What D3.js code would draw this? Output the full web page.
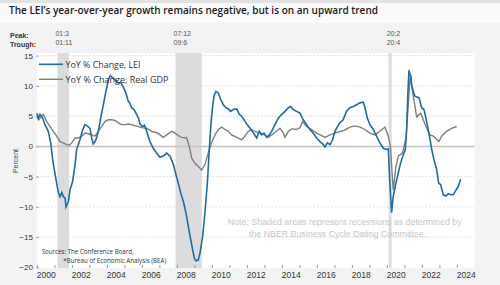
<!DOCTYPE html>
<html>
<head>
<meta charset="utf-8">
<script src="https://cdn.jsdelivr.net/npm/d3@7/dist/d3.min.js"></script>
<style>
  body { margin: 0; background: #f3f3f3; }
  svg { display: block; }
  text { font-family: "Liberation Sans", Arial, sans-serif; }
</style>
</head>
<body>
<div id="chart"></div>
<script>
var width = 500,
    height = 285;

// LEI, year-over-year % change (decimal year, value)
var lei = [
  [2000.00, 5.5], [2000.08, 4.7], [2000.18, 5.3], [2000.33, 4.7], [2000.46, 3.6],
  [2000.65, 2.5], [2000.79, 0.6], [2000.90, -2.2], [2001.03, -4.4], [2001.13, -6.1],
  [2001.23, -7.7], [2001.32, -8.3], [2001.42, -7.6], [2001.51, -8.3], [2001.61, -8.5],
  [2001.66, -10.0], [2001.80, -9.1], [2001.89, -7.2], [2002.04, -5.8], [2002.18, -3.0],
  [2002.27, -0.5], [2002.37, 0.3], [2002.46, 1.1], [2002.62, 2.8], [2002.75, 3.6],
  [2002.88, 3.4], [2003.03, 3.0], [2003.13, 1.4], [2003.22, 0.4], [2003.32, 0.8],
  [2003.41, 1.4], [2003.51, 2.5], [2003.61, 4.1], [2003.70, 5.5], [2003.80, 6.9],
  [2003.89, 8.3], [2003.99, 9.7], [2004.08, 11.0], [2004.18, 11.7], [2004.27, 11.5],
  [2004.37, 11.3], [2004.52, 10.8], [2004.65, 10.5], [2004.79, 10.6], [2004.94, 9.8],
  [2005.09, 8.8], [2005.22, 7.5], [2005.32, 7.1], [2005.41, 6.4], [2005.55, 6.1],
  [2005.66, 5.5], [2005.80, 4.7], [2005.89, 3.7], [2006.04, 3.3], [2006.15, 3.5],
  [2006.27, 2.5], [2006.46, 0.8], [2006.65, -0.3], [2006.84, -1.1], [2007.03, -1.8],
  [2007.22, -1.6], [2007.42, -1.1], [2007.61, -1.6], [2007.80, -3.0], [2007.95, -4.7],
  [2008.08, -6.1], [2008.22, -7.7], [2008.37, -9.1], [2008.52, -11.0], [2008.65, -13.2],
  [2008.79, -15.4], [2008.90, -17.1], [2009.00, -18.5], [2009.09, -18.9], [2009.22, -18.8],
  [2009.32, -17.6], [2009.47, -14.9], [2009.60, -11.0], [2009.74, -6.1], [2009.85, -0.5],
  [2009.95, 3.9], [2010.04, 6.6], [2010.12, 8.3], [2010.23, 9.1], [2010.37, 8.8],
  [2010.50, 7.8], [2010.65, 6.9], [2010.80, 6.4], [2010.94, 6.2], [2011.07, 5.8],
  [2011.22, 6.1], [2011.42, 6.2], [2011.57, 5.3], [2011.70, 5.0], [2011.84, 4.4],
  [2011.99, 3.7], [2012.18, 3.0], [2012.37, 2.2], [2012.56, 1.4], [2012.71, 2.5],
  [2012.84, 1.9], [2012.98, 2.2], [2013.13, 1.5], [2013.28, 1.9], [2013.41, 2.5],
  [2013.60, 3.6], [2013.80, 4.7], [2013.99, 5.3], [2014.18, 5.8], [2014.37, 6.4],
  [2014.50, 6.6], [2014.65, 6.1], [2014.84, 5.8], [2015.03, 5.5], [2015.22, 4.4],
  [2015.41, 3.6], [2015.60, 2.8], [2015.79, 2.2], [2015.98, 1.4], [2016.18, 0.8],
  [2016.37, 0.3], [2016.46, -0.1], [2016.60, 0.6], [2016.75, 0.3], [2016.90, 1.1],
  [2017.03, 2.5], [2017.16, 3.2], [2017.31, 3.9], [2017.50, 4.4], [2017.69, 5.8],
  [2017.88, 6.4], [2018.08, 6.6], [2018.27, 6.9], [2018.46, 7.2], [2018.65, 7.3],
  [2018.75, 6.4], [2018.88, 4.7], [2019.03, 3.6], [2019.22, 2.8], [2019.41, 1.7],
  [2019.60, 0.6], [2019.79, -0.3], [2019.98, -0.5], [2020.08, -0.4], [2020.17, -6.1],
  [2020.27, -10.9], [2020.36, -8.3], [2020.51, -6.1], [2020.65, -4.4], [2020.78, -2.8],
  [2020.93, -1.4], [2021.05, -0.5], [2021.13, 2.8], [2021.20, 8.8], [2021.26, 12.6],
  [2021.32, 11.9], [2021.37, 11.6], [2021.41, 10.2], [2021.51, 9.1], [2021.60, 8.3],
  [2021.70, 8.2], [2021.85, 8.0], [2021.98, 6.4], [2022.12, 6.1], [2022.27, 4.1],
  [2022.42, 1.9], [2022.56, -0.5], [2022.69, -2.2], [2022.84, -3.8], [2022.96, -6.1],
  [2023.07, -6.3], [2023.22, -8.0], [2023.38, -8.2], [2023.51, -7.8], [2023.65, -8.0],
  [2023.80, -8.0], [2023.95, -7.2], [2024.08, -6.6], [2024.22, -5.4]
];

// Real GDP, year-over-year % change
var gdp = [
  [2000.00, 5.0], [2000.10, 4.4], [2000.20, 4.8], [2000.37, 5.3], [2000.56, 4.1],
  [2000.75, 3.3], [2000.94, 2.5], [2001.13, 1.7], [2001.32, 0.8], [2001.51, 0.6],
  [2001.70, 0.3], [2001.85, 0.2], [2001.99, 0.6], [2002.18, 1.4], [2002.37, 1.4],
  [2002.56, 1.7], [2002.75, 2.2], [2002.94, 2.1], [2003.13, 1.9], [2003.32, 1.7],
  [2003.51, 2.5], [2003.70, 3.3], [2003.89, 4.1], [2004.08, 4.4], [2004.27, 4.4],
  [2004.46, 4.3], [2004.65, 3.9], [2004.84, 3.6], [2005.03, 3.6], [2005.22, 3.7],
  [2005.41, 3.6], [2005.60, 3.4], [2005.80, 3.3], [2005.99, 3.1], [2006.27, 3.0],
  [2006.56, 2.5], [2006.84, 2.3], [2007.03, 1.9], [2007.22, 1.5], [2007.42, 1.9],
  [2007.70, 2.5], [2007.90, 2.2], [2008.08, 1.8], [2008.27, 1.5], [2008.56, 1.4],
  [2008.71, 0.0], [2008.84, -1.9], [2009.03, -2.8], [2009.22, -3.3], [2009.41, -3.9],
  [2009.60, -3.0], [2009.79, -1.1], [2009.98, 0.6], [2010.18, 1.9], [2010.37, 2.8],
  [2010.56, 3.2], [2010.75, 2.8], [2010.94, 2.5], [2011.13, 1.9], [2011.42, 1.5],
  [2011.70, 1.1], [2011.89, 1.7], [2012.08, 2.5], [2012.27, 2.8], [2012.46, 2.5],
  [2012.75, 2.2], [2013.03, 1.9], [2013.22, 1.5], [2013.51, 2.1], [2013.89, 3.0],
  [2014.08, 2.2], [2014.18, 1.5], [2014.37, 2.5], [2014.56, 2.9], [2014.84, 2.8],
  [2015.03, 3.1], [2015.18, 4.1], [2015.41, 3.3], [2015.70, 2.8], [2015.98, 2.2],
  [2016.27, 1.8], [2016.46, 1.5], [2016.75, 1.9], [2017.13, 2.3], [2017.60, 2.7],
  [2017.88, 3.2], [2018.17, 3.4], [2018.46, 3.2], [2018.75, 2.8], [2019.03, 2.2],
  [2019.32, 1.9], [2019.60, 2.5], [2019.89, 3.2], [2020.08, 1.7], [2020.20, 0.0],
  [2020.36, -7.2], [2020.51, -3.4], [2020.65, -1.6], [2020.89, -1.1], [2021.09, 1.4],
  [2021.33, 11.6], [2021.70, 4.9], [2021.93, 5.5], [2022.20, 3.5], [2022.45, 1.9],
  [2022.65, 1.7], [2022.85, 1.2], [2022.97, 0.8], [2023.13, 1.7], [2023.41, 2.5],
  [2023.70, 3.0], [2023.99, 3.3]
];

// NBER recessions
var recStart = [2001.17, 2007.92, 2020.10];
var recEnd = [2001.84, 2009.42, 2020.27];
var peakLabels = ["01:3", "07:12", "20:2"];
var troughLabels = ["01:11", "09:6", "20:4"];

var yTicks = [-20, -15, -10, -5, 0, 5, 10, 15];
var yearTicks = d3.range(2000, 2025);
var yearLabels = d3.range(2000, 2025, 2);

var x = d3.scaleLinear()
    .domain([2000, 2025])
    .range([36.9, 474.4]);

var y = d3.scaleLinear()
    .domain([-20, 15])
    .range([267.4, 55.7]);

var svg = d3.select("#chart").append("svg")
    .attr("width", width)
    .attr("height", height);

// background pieces
svg.append("rect").attr("x", 0).attr("y", 0).attr("width", width).attr("height", height).attr("fill", "#f3f3f3");
svg.append("rect").attr("x", 0).attr("y", 0).attr("width", width).attr("height", 3).attr("fill", "#e2e2e2");
svg.append("rect").attr("x", 0).attr("y", 3).attr("width", width).attr("height", 20).attr("fill", "#fafafa");
svg.append("rect")
    .attr("x", x(2000)).attr("y", 53)
    .attr("width", x(2025) - x(2000)).attr("height", 268 - 53)
    .attr("fill", "#ffffff");

svg.append("text")
    .attr("x", 9).attr("y", 14)
    .attr("textLength", 369).attr("lengthAdjust", "spacingAndGlyphs")
    .style("font-family", "'Open Sans', sans-serif")
    .style("font-weight", 600)
    .style("font-size", "10.5px")
    .style("fill", "#1a1a1a")
    .text("The LEI\u2019s year-over-year growth remains negative, but is on an upward trend");

// gridlines
svg.append("g")
  .selectAll("line")
  .data(yTicks.filter(function(d) { return d != 0 && d != -20; }))
  .enter().append("line")
    .attr("x1", x(2000)).attr("x2", x(2025))
    .attr("y1", function(d) { return y(d); })
    .attr("y2", function(d) { return y(d); })
    .attr("stroke", "#d6d6d6")
    .attr("stroke-width", 0.8)
    .attr("stroke-dasharray", "2,1.5");

// recession shading
svg.append("g")
  .selectAll("rect")
  .data(recStart)
  .enter().append("rect")
    .attr("x", function(d) { return x(d); })
    .attr("y", 53)
    .attr("width", function(d, i) { return x(recEnd[i]) - x(d); })
    .attr("height", 268 - 53)
    .attr("fill", "#dcdcdc");

// zero line
svg.append("line")
    .attr("x1", x(2000)).attr("x2", x(2025))
    .attr("y1", y(0)).attr("y2", y(0))
    .attr("stroke", "#c4c4c4")
    .attr("stroke-width", 1.4);

// peak / trough labels
var small = svg.append("g").style("font-size", "7px");
small.append("text").attr("x", 10).attr("y", 37.5).style("font-weight", "bold").style("fill", "#333").text("Peak:");
small.append("text").attr("x", 10).attr("y", 47).style("font-weight", "bold").style("fill", "#333").text("Trough:");
small.selectAll(".pk")
  .data(peakLabels)
  .enter().append("text")
    .attr("class", "pk")
    .attr("x", function(d, i) { return x(recStart[i]) - 2; })
    .attr("y", 35.5)
    .style("fill", "#555")
    .text(function(d) { return d; });
small.selectAll(".tr")
  .data(troughLabels)
  .enter().append("text")
    .attr("class", "tr")
    .attr("x", function(d, i) { return x(recStart[i]) - 2; })
    .attr("y", 45)
    .style("fill", "#555")
    .text(function(d) { return d; });

// y axis
var yAxis = svg.append("g")
    .attr("transform", "translate(" + (x(2000) + 2) + ",0)")
    .call(d3.axisLeft(y).tickValues(yTicks).tickSize(3).tickPadding(3));
yAxis.select(".domain").remove();
yAxis.selectAll("line").attr("stroke", "#aaa");
yAxis.selectAll("text").style("font-size", "8px").style("fill", "#333")
    .style("font-family", "'Liberation Sans', Arial, sans-serif");

svg.append("text")
    .attr("transform", "translate(18,161)rotate(-90)")
    .attr("text-anchor", "middle")
    .style("font-size", "7px")
    .style("fill", "#444")
    .text("Percent");

// x axis: year ticks and mid-year labels
var xTickAxis = svg.append("g")
    .attr("transform", "translate(0,268)")
    .call(d3.axisBottom(x).tickValues(yearTicks).tickSize(-3).tickFormat(""));
xTickAxis.select(".domain").remove();
xTickAxis.selectAll("line").attr("stroke", "#999");

var xLabAxis = svg.append("g")
    .attr("transform", "translate(0,270)")
    .call(d3.axisBottom(x).tickValues(yearLabels.map(function(d) { return d + 0.5; }))
      .tickSize(0).tickPadding(2).tickFormat(function(d) { return Math.floor(d); }));
xLabAxis.select(".domain").remove();
xLabAxis.selectAll("text").style("font-size", "8.5px").style("fill", "#333")
    .style("font-family", "'Liberation Sans', Arial, sans-serif");

// lines
var line = d3.line()
    .x(function(d) { return x(d[0]); })
    .y(function(d) { return y(d[1]); });

svg.append("path")
    .datum(gdp)
    .attr("d", line)
    .attr("fill", "none")
    .attr("stroke", "#7f7f7f")
    .attr("stroke-width", 1.4);

svg.append("path")
    .datum(lei)
    .attr("d", line)
    .attr("fill", "none")
    .attr("stroke", "#1b6da6")
    .attr("stroke-width", 1.6);

// legend
var legend = [
  {name: "YoY % Change, LEI", color: "#1b6da6", w: 75},
  {name: "YoY % Change, Real GDP", color: "#7f7f7f", w: 103}
];
var lg = svg.append("g");
lg.selectAll("line")
  .data(legend)
  .enter().append("line")
    .attr("x1", 39).attr("x2", 63)
    .attr("y1", function(d, i) { return 64.3 + i * 15; })
    .attr("y2", function(d, i) { return 64.3 + i * 15; })
    .attr("stroke", function(d) { return d.color; })
    .attr("stroke-width", function(d, i) { return i ? 1.4 : 1.6; });
lg.selectAll("text")
  .data(legend)
  .enter().append("text")
    .attr("x", 65.5)
    .attr("y", function(d, i) { return 67.5 + i * 15; })
    .attr("textLength", function(d) { return d.w; })
    .attr("lengthAdjust", "spacingAndGlyphs")
    .style("font-family", "'Open Sans', sans-serif")
    .style("font-size", "8.8px")
    .style("fill", "#333")
    .text(function(d) { return d.name; });

// sources
svg.append("text")
    .attr("x", 41.7).attr("y", 253.5)
    .attr("textLength", 92).attr("lengthAdjust", "spacingAndGlyphs")
    .style("font-family", "'Open Sans', sans-serif")
    .style("font-size", "6.5px").style("fill", "#333")
    .text("Sources: The Conference Board,");
svg.append("text")
    .attr("x", 63.3).attr("y", 262.5)
    .attr("textLength", 103).attr("lengthAdjust", "spacingAndGlyphs")
    .style("font-family", "'Open Sans', sans-serif")
    .style("font-size", "6.5px").style("fill", "#333")
    .text("*Bureau of Economic Analysis (BEA)");

// note
svg.append("text")
    .attr("x", 227.7).attr("y", 225.3)
    .attr("textLength", 234).attr("lengthAdjust", "spacingAndGlyphs")
    .style("font-size", "8.5px").style("fill", "#c6c6c6")
    .text("Note: Shaded areas represent recessions as determined by");
svg.append("text")
    .attr("x", 249).attr("y", 237)
    .attr("textLength", 177).attr("lengthAdjust", "spacingAndGlyphs")
    .style("font-size", "8.5px").style("fill", "#c6c6c6")
    .text("the NBER Business Cycle Dating Committee.");
</script>
</body>
</html>
